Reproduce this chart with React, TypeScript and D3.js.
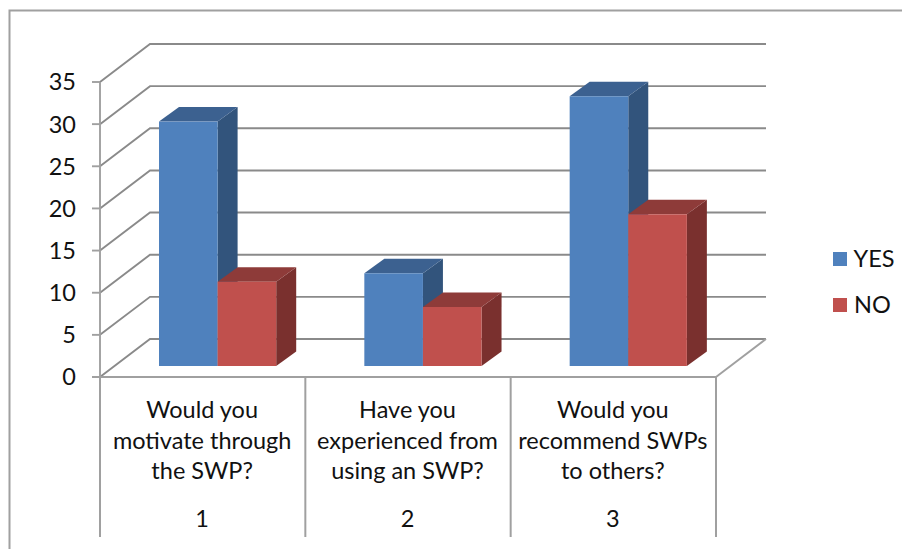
import React from "react";
import * as d3 from "d3";

const categories = ["1", "2", "3"];
const categoryLines = [
  ["Would you", "motivate through", "the SWP?"],
  ["Have you", "experienced from", "using an SWP?"],
  ["Would you", "recommend SWPs", "to others?"],
];
const yesValues = [29, 11, 32];
const noValues = [10, 7, 18];
const yTicks = [0, 5, 10, 15, 20, 25, 30, 35];

const width = 902;
const height = 549;
const font = "Lato, 'Open Sans', sans-serif";
const fontSize = 23.5;
const inkColor = "#111111";
const gridColor = "#8a8a8a";
const frameColor = "#a0a0a0";

const x = d3.scaleBand<string>().domain(categories).range([100, 716]);
const y = d3.scaleLinear().domain([0, 35]).range([377, 82]);

// Oblique projection of the 3D box: how far the back wall sits from the front plane.
const wallDx = 50;
const wallDy = -38;
const barPlaneDx = 14;
const barPlaneDy = -11;
const barDepthDx = 20;
const barDepthDy = -14.5;
const barWidth = 58.6;
const barInset = 45;

type Palette = { front: string; top: string; side: string };
const yesColors: Palette = { front: "#4f81bd", top: "#3c6190", side: "#32547c" };
const noColors: Palette = { front: "#c0504d", top: "#8e3b39", side: "#7a302e" };

function poly(points: [number, number][]) {
  return d3.line()(points) + "Z";
}

function Bar({ x0, value, colors }: { x0: number; value: number; colors: Palette }) {
  const bottom = y(0) + barPlaneDy;
  const top = y(value) + barPlaneDy;
  const x1 = x0 + barWidth;
  const dx = barDepthDx;
  const dy = barDepthDy;
  return (
    <g>
      <path d={poly([[x1, top], [x1 + dx, top + dy], [x1 + dx, bottom + dy], [x1, bottom]])} fill={colors.side} />
      <path d={poly([[x0, top], [x0 + dx, top + dy], [x1 + dx, top + dy], [x1, top]])} fill={colors.top} />
      <rect x={x0} y={top} width={barWidth} height={bottom - top} fill={colors.front} />
    </g>
  );
}

export default function App() {
  const bottomEdge = 537;
  const ticks = [...x.domain().map((c) => x(c)!), x.range()[1]];
  return (
    <svg
      width={width}
      height={height}
      viewBox={`0 0 ${width} ${height}`}
      style={{ position: "absolute", left: 0, top: 0, background: "#fff" }}
    >
      {/* Chart frame, open on the right and bottom */}
      <path d="M9.5 549V10.5H902" fill="none" stroke={frameColor} strokeWidth={2} />

      {/* Gridlines on the side and back walls */}
      {yTicks.map((t) => (
        <path
          key={t}
          d={d3.line()([
            [x.range()[0], y(t)],
            [x.range()[0] + wallDx, y(t) + wallDy],
            [x.range()[1] + wallDx, y(t) + wallDy],
          ])!}
          fill="none"
          stroke={gridColor}
          strokeWidth={1.9}
        />
      ))}

      {/* Floor edge on the right */}
      <path
        d={d3.line()([
          [x.range()[1], y(0)],
          [x.range()[1] + wallDx, y(0) + wallDy],
        ])!}
        fill="none"
        stroke={frameColor}
        strokeWidth={1.9}
      />

      {/* Bars */}
      {categories.map((c, i) => {
        const x0 = x(c)! + barInset + barPlaneDx;
        return (
          <g key={c}>
            <Bar x0={x0} value={yesValues[i]} colors={yesColors} />
            <Bar x0={x0 + barWidth} value={noValues[i]} colors={noColors} />
          </g>
        );
      })}

      {/* Value axis */}
      <line x1={100} x2={100} y1={y(35)} y2={y(0)} stroke={frameColor} strokeWidth={1.9} />
      {yTicks.map((t) => (
        <g key={t}>
          <line x1={92} x2={100} y1={y(t)} y2={y(t)} stroke={frameColor} strokeWidth={1.9} />
          <text x={76} y={y(t)} dy="0.36em" textAnchor="end" fontFamily={font} fontSize={fontSize} fill={inkColor}>
            {t}
          </text>
        </g>
      ))}

      {/* Category axis with its separators */}
      <line x1={92} x2={716} y1={y(0)} y2={y(0)} stroke={frameColor} strokeWidth={1.9} />
      {ticks.map((tx) => (
        <line key={tx} x1={tx} x2={tx} y1={y(0)} y2={bottomEdge} stroke={frameColor} strokeWidth={2} />
      ))}
      {categories.map((c, i) => {
        const cx = x(c)! + x.bandwidth() / 2 - 0.5;
        return (
          <g key={c} textAnchor="middle" fontFamily={font} fontSize={fontSize} fill={inkColor}>
            {categoryLines[i].map((line, j) => (
              <text key={line} x={cx} y={418 + j * 30.5}>
                {line}
              </text>
            ))}
            <text x={cx} y={527}>
              {c}
            </text>
          </g>
        );
      })}

      {/* Legend */}
      <rect x={833} y={252} width={14} height={14} fill={yesColors.front} />
      <text x={853.5} y={259} dy="0.36em" fontFamily={font} fontSize={fontSize} fill={inkColor}>
        YES
      </text>
      <rect x={833} y={298} width={14} height={14} fill={noColors.front} />
      <text x={854} y={305} dy="0.36em" fontFamily={font} fontSize={fontSize} fill={inkColor}>
        NO
      </text>
    </svg>
  );
}
